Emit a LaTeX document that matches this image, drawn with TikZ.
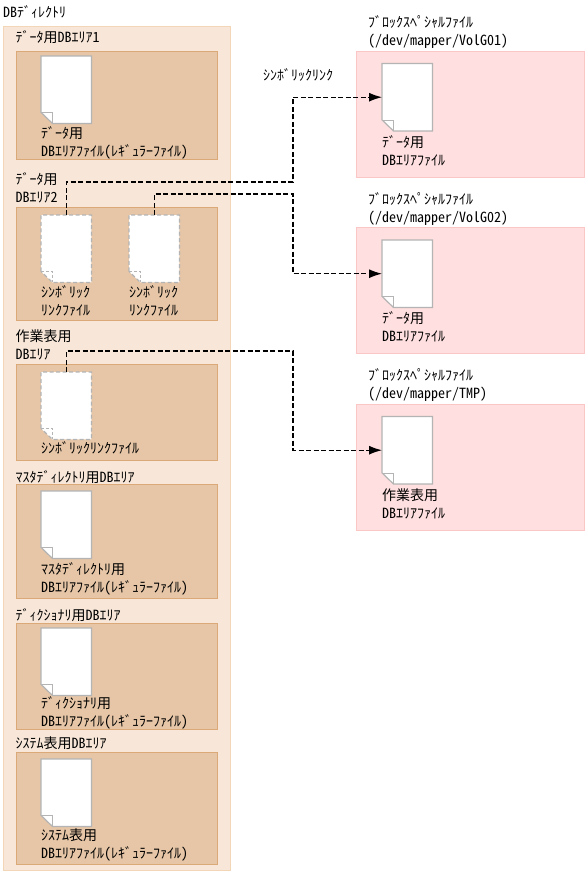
\documentclass[tikz,border=0pt]{standalone}
\usepackage{fontspec}
\setmainfont{Noto Sans CJK JP}[RawFeature=+hwid]
\usepackage{tikz}
\usetikzlibrary{positioning,arrows.meta}
\definecolor{dirfill}{HTML}{F8E7D8}
\definecolor{dirline}{HTML}{F3D6B8}
\definecolor{areafill}{HTML}{E6C6A7}
\definecolor{arealine}{HTML}{DBA878}
\definecolor{blockfill}{HTML}{FFDFDF}
\definecolor{blockline}{HTML}{FAC6C6}
\definecolor{fileline}{HTML}{B4B4B4}

\begin{document}
\begin{tikzpicture}[
  x=1pt,
  y=-1pt,
  >=Latex,
  node distance=4pt and 4pt,
  dirbox/.style={
    draw=dirline,
    fill=dirfill,
    line width=1pt,
    anchor=north west,
    minimum width=227pt,
    minimum height=844pt
  },
  areabox/.style={
    draw=arealine,
    fill=areafill,
    line width=.8pt,
    anchor=north west,
    minimum width=201.5pt
  },
  blockbox/.style={
    draw=blockline,
    fill=blockfill,
    line width=.8pt,
    anchor=north west,
    minimum width=228pt,
    minimum height=126pt
  },
  filebox/.style={
    inner sep=0pt,
    minimum width=50pt,
    minimum height=67pt
  },
  txt/.style={
    inner sep=0pt,
    anchor=north west,
    align=left,
    font=\fontsize{14}{18}\selectfont
  },
  filebody/.style={draw=fileline, fill=white, line width=1.2pt},
  linkbody/.style={draw=fileline, fill=white, line width=1.2pt, dash pattern=on 4pt off 2.5pt},
  symlink/.style={line width=1.2pt, dash pattern=on 5pt off 2.5pt, arrows={-Latex[length=13pt,width=9pt]}}
]
\useasboundingbox (0,0) rectangle (587,873);

% left side
\node[txt] (dirname) at (3,5.5) {DBﾃﾞｨﾚｸﾄﾘ};
\node[dirbox] (dir) at (3,26) {};

\node[areabox, minimum height=108pt] (p1) at (15.5,51) {};
\node[areabox, minimum height=113pt] (p2) at (15.5,207) {};
\node[areabox, minimum height=96pt] (p3) at (15.5,363.5) {};
\node[areabox, minimum height=114pt] (p4) at (15.5,484) {};
\node[areabox, minimum height=106pt] (p5) at (15.5,623) {};
\node[areabox, minimum height=112pt] (p6) at (15.5,752) {};

\node[txt] (t1) at (15.5,30) {ﾃﾞｰﾀ用DBｴﾘｱ1};
\node[txt] (t2) at (15.5,172) {ﾃﾞｰﾀ用\\DBｴﾘｱ2};
\node[txt] (t3) at (15.5,330) {作業表用\\DBｴﾘｱ};
\node[txt] (t4) at (15.5,470) {ﾏｽﾀﾃﾞｨﾚｸﾄﾘ用DBｴﾘｱ};
\node[txt] (t5) at (15.5,608) {ﾃﾞｨｸｼｮﾅﾘ用DBｴﾘｱ};
\node[txt] (t6) at (15.5,737) {ｼｽﾃﾑ表用DBｴﾘｱ};

\node[filebox, below right=5pt and 25.5pt of p1.north west] (f1) {};
\node[filebox, below right=8pt and 25.5pt of p2.north west] (f2a) {};
\node[filebox, below right=8pt and 113.5pt of p2.north west] (f2b) {};
\node[filebox, below right=8.5pt and 25.5pt of p3.north west] (f3) {};
\node[filebox, below right=7pt and 25.5pt of p4.north west] (f4) {};
\node[filebox, below right=5pt and 25.5pt of p5.north west] (f5) {};
\node[filebox, below right=7pt and 25.5pt of p6.north west] (f6) {};

\node[txt, below=2.5pt of f1.south west, anchor=north west] (l1) {ﾃﾞｰﾀ用\\DBｴﾘｱﾌｧｲﾙ(ﾚｷﾞｭﾗｰﾌｧｲﾙ)};
\node[txt, below=3pt of f2a.south west, anchor=north west] (l2a) {ｼﾝﾎﾞﾘｯｸ\\ﾘﾝｸﾌｧｲﾙ};
\node[txt, below=3pt of f2b.south west, anchor=north west] (l2b) {ｼﾝﾎﾞﾘｯｸ\\ﾘﾝｸﾌｧｲﾙ};
\node[txt, below=2pt of f3.south west, anchor=north west] (l3) {ｼﾝﾎﾞﾘｯｸﾘﾝｸﾌｧｲﾙ};
\node[txt, below=3.5pt of f4.south west, anchor=north west] (l4) {ﾏｽﾀﾃﾞｨﾚｸﾄﾘ用\\DBｴﾘｱﾌｧｲﾙ(ﾚｷﾞｭﾗｰﾌｧｲﾙ)};
\node[txt, below=.5pt of f5.south west, anchor=north west] (l5) {ﾃﾞｨｸｼｮﾅﾘ用\\DBｴﾘｱﾌｧｲﾙ(ﾚｷﾞｭﾗｰﾌｧｲﾙ)};
\node[txt, below=2pt of f6.south west, anchor=north west] (l6) {ｼｽﾃﾑ表用\\DBｴﾘｱﾌｧｲﾙ(ﾚｷﾞｭﾗｰﾌｧｲﾙ)};

% right side
\node[blockbox] (b1) at (356,51) {};
\node[blockbox] (b2) at (356,227) {};
\node[blockbox] (b3) at (356,404) {};

\node[txt] (h1) at (368,15.5) {ﾌﾞﾛｯｸｽﾍﾟｼｬﾙﾌｧｲﾙ\\(/dev/mapper/VolG01)};
\node[txt] (h2) at (368,192) {ﾌﾞﾛｯｸｽﾍﾟｼｬﾙﾌｧｲﾙ\\(/dev/mapper/VolG02)};
\node[txt] (h3) at (368,368) {ﾌﾞﾛｯｸｽﾍﾟｼｬﾙﾌｧｲﾙ\\(/dev/mapper/TMP)};
\node[txt] (linkname) at (263,68) {ｼﾝﾎﾞﾘｯｸﾘﾝｸ};

\node[filebox, below right=12.5pt and 26pt of b1.north west] (v1) {};
\node[filebox, below right=13pt and 26pt of b2.north west] (v2) {};
\node[filebox, below right=12.5pt and 26pt of b3.north west] (v3) {};

\node[txt, below=4pt of v1.south west, anchor=north west] (m1) {ﾃﾞｰﾀ用\\DBｴﾘｱﾌｧｲﾙ};
\node[txt, below=4pt of v2.south west, anchor=north west] (m2) {ﾃﾞｰﾀ用\\DBｴﾘｱﾌｧｲﾙ};
\node[txt, below=5pt of v3.south west, anchor=north west] (m3) {作業表用\\DBｴﾘｱﾌｧｲﾙ};

% file sheets
\foreach \f in {f1,f4,f5,f6,v1,v2,v3} {
  \draw[filebody] (\f.south west) ++(0,-11) -- (\f.north west) -- (\f.north east) -- (\f.south east) -- ++(-39,0) -- cycle;
  \draw[draw=fileline, line width=.8pt] (\f.south west) ++(0,-11) -- ++(11,0) -- ++(0,11);
}
\foreach \f in {f2a,f2b,f3} {
  \draw[linkbody] (\f.south west) ++(0,-11) -- (\f.north west) -- (\f.north east) -- (\f.south east) -- ++(-39,0) -- cycle;
  \draw[draw=fileline, line width=.8pt, dash pattern=on 3pt off 2pt] (\f.south west) ++(0,-11) -- ++(11,0) -- ++(0,11);
}

% links
\coordinate (c1) at (293,182);
\coordinate (c2) at (293,194);
\coordinate (c3) at (293,351);
\draw[symlink] (f2a.north) |- (c1) |- (v1.west);
\draw[symlink] (f2b.north) |- (c2) |- (v2.west);
\draw[symlink] (f3.north) |- (c3) |- (v3.west);
\end{tikzpicture}
\end{document}
